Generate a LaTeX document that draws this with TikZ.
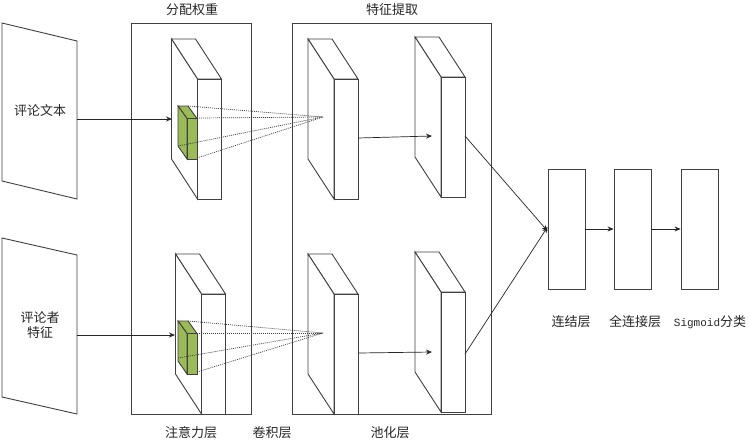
\documentclass[tikz,border=0pt]{standalone}
\usepackage{fontspec}
\setmainfont{Noto Sans CJK SC}
\newfontfamily\latinmono{Liberation Mono}
\usetikzlibrary{arrows.meta}
\definecolor{linegray}{HTML}{404040}
\definecolor{leaf}{HTML}{9BBB59}
\tikzset{
  every picture/.style={line join=miter},
  outline/.style={draw=linegray,line width=0.9pt},
  conn/.style={draw=black!85,line width=0.7pt,-{Stealth[length=6pt,width=5pt]}},
  beam/.style={draw=black!75,line width=0.7pt,dash pattern=on 1pt off 1pt},
  caption/.style={font=\fontsize{13pt}{15pt}\selectfont,text=black!85,inner sep=0pt,align=center},
  layerbox/.style={outline,rectangle,minimum width=37pt,minimum height=120pt,inner sep=0pt},
  frame/.style={outline,rectangle,inner sep=0pt},
  slab/.pic={
    \draw[outline,fill=white] (0,0) -- (24,0) -- (50,40) -- (26,40) -- cycle;
    \draw[outline,fill=white] (0,0) -- (26,40) -- (26,160) -- (0,120) -- cycle;
    \draw[outline,fill=white] (26,40) rectangle (50,160);
  },
  greenslab/.pic={
    \draw[outline,fill=leaf] (0,0) -- (10,0) -- (19,12.5) -- (9,12.5) -- cycle;
    \draw[outline,fill=leaf] (0,0) -- (9,12.5) -- (9,53) -- (0,40) -- cycle;
    \draw[outline,fill=leaf] (9,12.5) rectangle (19,53);
  }
}
\begin{document}
\begin{tikzpicture}[x=1pt,y=-1pt]
\useasboundingbox (0,0) rectangle (749,445);
\fill[white] (0,0) rectangle (749,445);

% input sheets
\draw[outline] (2,23) -- (77,41) -- (77,199) -- (2,181) -- cycle;
\draw[outline] (2,238) -- (77,255) -- (77,414) -- (2,397) -- cycle;

% group frames
\node[frame,minimum width=120pt,minimum height=391pt] (attframe) at (191.5,218.5) {};
\node[frame,minimum width=199pt,minimum height=391pt] (convframe) at (391.5,218.5) {};

% slabs
\pic at (171.5,39) {slab};
\pic at (175.5,254) {slab};
\pic at (308,39) {slab};
\pic at (308,254) {slab};
\pic at (415,37) {slab};
\pic at (415,252) {slab};

% green attention slabs
\pic at (178,106) {greenslab};
\pic at (178,321) {greenslab};

% anchor points
\coordinate (sheetA) at (77,119);
\coordinate (attA) at (172,119);
\coordinate (sheetB) at (77,335);
\coordinate (attB) at (175,335);
\coordinate (apexA) at (323,117);
\coordinate (apexB) at (323,333);
\coordinate (convAout) at (358,138);
\coordinate (poolAin) at (432,136);
\coordinate (convBout) at (358,353);
\coordinate (poolBin) at (432,352);
\coordinate (poolAout) at (465,136);
\coordinate (poolBout) at (465,354);

% focus beams
\draw[beam] (188,106) -- (apexA);
\draw[beam] (197,118) -- (apexA);
\draw[beam] (178,146) -- (apexA);
\draw[beam] (197,158) -- (apexA);
\draw[beam] (188,321) -- (apexB);
\draw[beam] (197,333) -- (apexB);
\draw[beam] (178,358) -- (apexB);
\draw[beam] (197,372) -- (apexB);

% right stack
\node[layerbox] (concat) at (566.5,229) {};
\node[layerbox] (dense) at (632.5,229) {};
\node[layerbox] (sigm) at (699.5,229) {};

% connectors
\draw[conn] (sheetA) -- (attA);
\draw[conn] (sheetB) -- (attB);
\draw[conn] (convAout) -- (poolAin);
\draw[conn] (convBout) -- (poolBin);
\draw[conn] (poolAout) -- ([yshift=-2pt]concat.west);
\draw[conn] (poolBout) -- ([yshift=2pt]concat.west);
\draw[conn] (concat) -- (dense);
\draw[conn] (dense) -- (sigm);

% labels
\node[caption] (t1) at (192,10) {分配权重};
\node[caption] (t2) at (392,10) {特征提取};
\node[caption] (t3) at (40,111) {评论文本};
\node[caption] (t4) at (40,325) {评论者\\特征};
\node[caption] (t5) at (191,433) {注意力层};
\node[caption] (t6) at (272,433) {卷积层};
\node[caption] (t7) at (390,433) {池化层};
\node[caption] (t8) at (571,322) {连结层};
\node[caption] (t9) at (635,322) {全连接层};
\node[caption] (t10) at (710,322) {{\latinmono\fontsize{11pt}{15pt}\selectfont Sigmoid}分类};
\end{tikzpicture}
\end{document}
